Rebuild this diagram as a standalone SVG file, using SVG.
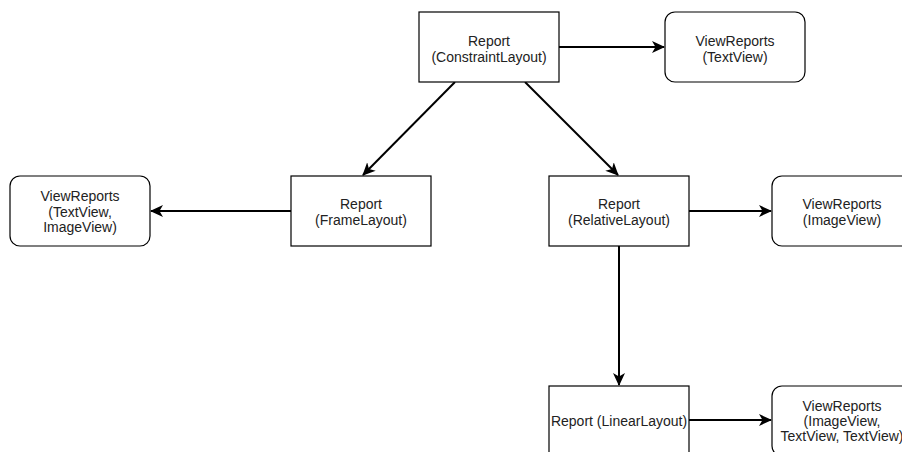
<svg xmlns="http://www.w3.org/2000/svg" width="902" height="452" viewBox="0 0 902 452">
<style>
.box{fill:#fff;stroke:#000;stroke-width:1.2}
.t{font-family:"Liberation Sans",Arial,sans-serif;font-size:14px;fill:#222;text-anchor:middle}
.c{stroke:#000;stroke-width:2;fill:none}
</style>
<defs>
<marker id="a" markerWidth="14" markerHeight="14" refX="12" refY="6" orient="auto" markerUnits="userSpaceOnUse">
<path d="M0,0 L13,6 L0,12 L3.5,6 Z" fill="#000"/>
</marker>
</defs>
<rect width="902" height="452" fill="#fff"/>
<g id="connectors">
<line class="c" x1="559" y1="47" x2="664" y2="47" marker-end="url(#a)"/>
<line class="c" x1="455" y1="82" x2="363" y2="175" marker-end="url(#a)"/>
<line class="c" x1="525" y1="82" x2="618" y2="175" marker-end="url(#a)"/>
<line class="c" x1="291" y1="211" x2="151" y2="211" marker-end="url(#a)"/>
<line class="c" x1="689" y1="211" x2="771" y2="211" marker-end="url(#a)"/>
<line class="c" x1="619" y1="246" x2="619" y2="385" marker-end="url(#a)"/>
<line class="c" x1="689" y1="420" x2="771" y2="420" marker-end="url(#a)"/>
</g>
<g id="n-constraint">
<rect class="box" x="419" y="12" width="140" height="70"/>
<text class="t" x="489" y="45.5">Report</text>
<text class="t" x="489" y="61.5">(ConstraintLayout)</text>
</g>
<g id="n-vr-text">
<rect class="box" x="665" y="12" width="140" height="70" rx="10"/>
<text class="t" x="735" y="45.5">ViewReports</text>
<text class="t" x="735" y="61.5">(TextView)</text>
</g>
<g id="n-frame">
<rect class="box" x="291" y="176" width="140" height="70"/>
<text class="t" x="361" y="209">Report</text>
<text class="t" x="361" y="225">(FrameLayout)</text>
</g>
<g id="n-vr-textimage">
<rect class="box" x="10" y="176" width="140" height="70" rx="10"/>
<text class="t" x="80" y="200.5">ViewReports</text>
<text class="t" x="80" y="216.5">(TextView,</text>
<text class="t" x="80" y="232">ImageView)</text>
</g>
<g id="n-relative">
<rect class="box" x="549" y="176" width="140" height="70"/>
<text class="t" x="619" y="209">Report</text>
<text class="t" x="619" y="225">(RelativeLayout)</text>
</g>
<g id="n-vr-image">
<rect class="box" x="772" y="176" width="140" height="70" rx="10"/>
<text class="t" x="842" y="209">ViewReports</text>
<text class="t" x="842" y="225">(ImageView)</text>
</g>
<g id="n-linear">
<rect class="box" x="549" y="386" width="140" height="70"/>
<text class="t" x="619" y="426">Report (LinearLayout)</text>
</g>
<g id="n-vr-multi">
<rect class="box" x="772" y="386" width="140" height="70" rx="10"/>
<text class="t" x="842" y="411">ViewReports</text>
<text class="t" x="842" y="426">(ImageView,</text>
<text class="t" x="842" y="441">TextView, TextView)</text>
</g>
</svg>
